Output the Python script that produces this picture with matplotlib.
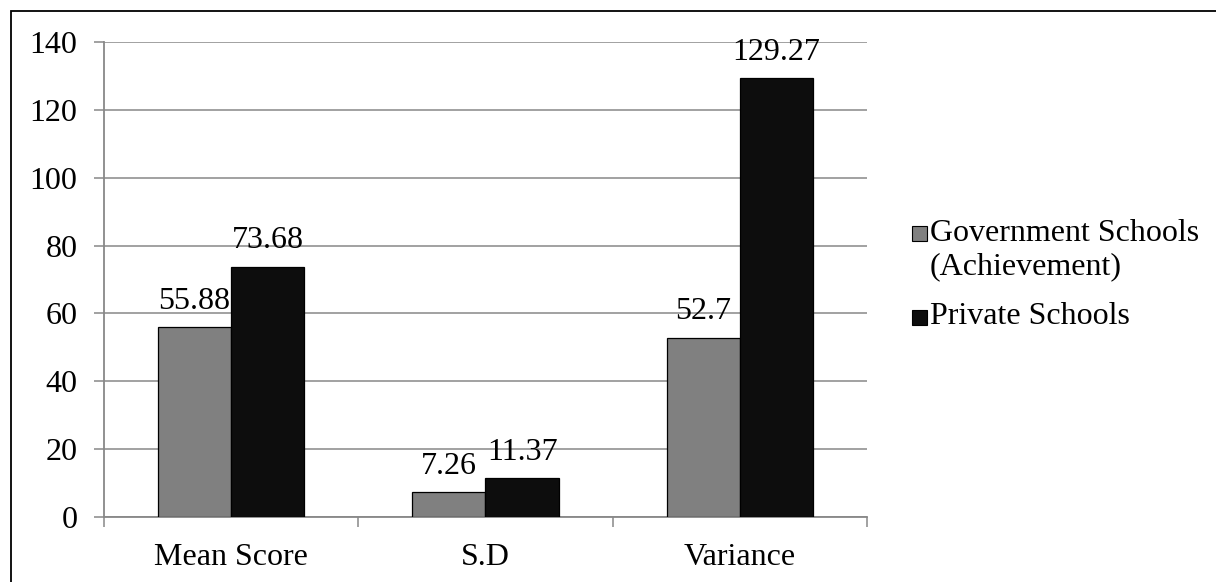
import matplotlib
matplotlib.use("Agg")
import matplotlib.pyplot as plt
from matplotlib.patches import Rectangle
import numpy as np

plt.rcParams['font.family'] = ['Liberation Serif', 'DejaVu Serif']

categories = ['Mean Score', 'S.D', 'Variance']
series_names = ['Government Schools\n(Achievement)', 'Private Schools']
government = [55.88, 7.26, 52.7]
private = [73.68, 11.37, 129.27]
yticks = [0, 20, 40, 60, 80, 100, 120, 140]

W, H = 1216, 582
fig = plt.figure(figsize=(W / 100, H / 100), dpi=100)
ax = fig.add_axes([104 / W, 1 - 517 / H, (867 - 104) / W, (517 - 42) / H])

fs = 23
grid_c = '#888888'
colors = ['#808080', '#0d0d0d']
x = np.arange(len(categories))
bw = 0.288

for vals, off, col in [(government, -bw / 2, colors[0]), (private, bw / 2, colors[1])]:
    bars = ax.bar(x + off, vals, width=bw, color=col, edgecolor='black', linewidth=0.9, zorder=3)
    for b, v in zip(bars, vals):
        ax.annotate(f'{v:g}', (b.get_x() + b.get_width() / 2, v),
                    xytext=(0, 13.5), textcoords='offset points',
                    ha='center', va='baseline', fontsize=fs, zorder=4)

ax.set_xlim(-0.5, 2.5)
ax.set_ylim(0, 140)
ax.set_yticks(yticks)
ax.yaxis.grid(True, color=grid_c, linewidth=1.1, zorder=0)
ax.set_axisbelow(True)

ax.set_xticks(x)
ax.set_xticklabels(categories, fontsize=fs)
ax.set_xticks([-0.5, 0.5, 1.5, 2.5], minor=True)
ax.tick_params(axis='x', which='major', length=0, pad=19)
ax.tick_params(axis='x', which='minor', length=7, width=1.1, color=grid_c, direction='out')
ax.tick_params(axis='y', length=7, width=1.1, color=grid_c, labelsize=fs, pad=12)

for s in ['top', 'right']:
    ax.spines[s].set_visible(False)
for s in ['left', 'bottom']:
    ax.spines[s].set_color(grid_c)
    ax.spines[s].set_linewidth(1.3)

# legend drawn by hand to match the layout
for col, yc, ytxt, label in [(colors[0], 233, 250, series_names[0]), (colors[1], 317, 317, series_names[1])]:
    fig.patches.append(Rectangle((912 / W, 1 - (yc + 7.5) / H), 15 / W, 15 / H,
                                 transform=fig.transFigure, facecolor=col,
                                 edgecolor='black', linewidth=0.8))
    fig.text(930 / W, 1 - ytxt / H, label, fontsize=fs, ha='left', va='center', linespacing=1.17)

# outer chart border
fig.patches.append(Rectangle((11 / W, -0.05), 1.1, 1 - 11 / H + 0.05,
                             transform=fig.transFigure, fill=False,
                             edgecolor='black', linewidth=1.3))

fig.savefig('out.png', dpi=100)
